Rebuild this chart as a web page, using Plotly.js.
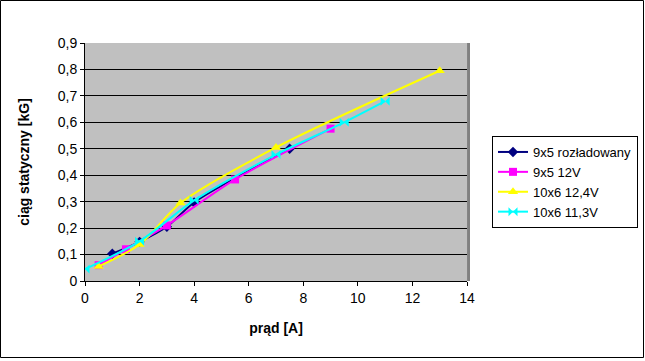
<!DOCTYPE html>
<html>
<head>
<meta charset="utf-8">
<script src="https://cdn.plot.ly/plotly-3.0.1.min.js"></script>
<style>
html,body{margin:0;padding:0;background:#fff;}
#chart{width:645px;height:361px;}
</style>
</head>
<body>
<div id="chart"></div>
<script>
// Data
const seriesNames = ["9x5 rozładowany", "9x5 12V", "10x6 12,4V", "10x6 11,3V"];
const s1x = [1, 2, 3, 4, 7.5];
const s1y = [0.103, 0.148, 0.205, 0.297, 0.5];
const s2x = [0.5, 1.5, 3, 5.5, 9];
const s2y = [0.06, 0.12, 0.21, 0.384, 0.576];
const s3x = [0.5, 2, 3.5, 7, 13];
const s3y = [0.055, 0.138, 0.295, 0.505, 0.795];
const s4x = [0, 2, 4, 7, 9.5, 11];
const s4y = [0.045, 0.15, 0.305, 0.478, 0.6, 0.68];
const yTickVals = [0, 0.1, 0.2, 0.3, 0.4, 0.5, 0.6, 0.7, 0.8, 0.9];
const yTickText = ["0", "0,1", "0,2", "0,3", "0,4", "0,5", "0,6", "0,7", "0,8", "0,9"];
const xTickVals = [0, 2, 4, 6, 8, 10, 12, 14];
const xTickText = ["0", "2", "4", "6", "8", "10", "12", "14"];

const W = 645, H = 361;
const m = {l: 85, r: 178, t: 43, b: 80};
const pw = W - m.l - m.r, ph = H - m.t - m.b;
const font = "Liberation Sans, Arial, sans-serif";

function tr(x, y, name, color, symbol, size) {
  return {x: x, y: y, name: name, type: "scatter", mode: "lines+markers",
    line: {color: color, width: 2, shape: "spline", smoothing: 0.8},
    marker: {color: color, symbol: symbol, size: size, line: {width: 0}}};
}
const traces = [
  tr(s1x, s1y, seriesNames[0], "#000080", "diamond", 8),
  tr(s2x, s2y, seriesNames[1], "#FF00FF", "square", 8),
  tr(s3x, s3y, seriesNames[2], "#FFFF00", "triangle-up", 9),
  tr(s4x, s4y, seriesNames[3], "#00FFFF", "bowtie", 9)
];

const layout = {
  width: W, height: H,
  margin: m,
  paper_bgcolor: "#ffffff",
  plot_bgcolor: "#c0c0c0",
  font: {family: font, size: 14, color: "#000"},
  showlegend: true,
  legend: {xref: "container", yref: "container", x: 492 / W, y: 1 - 136 / H,
    xanchor: "left", yanchor: "top",
    bgcolor: "#ffffff", bordercolor: "#000", borderwidth: 1,
    font: {family: font, size: 13, color: "#000"}, tracegroupgap: 0, itemwidth: 30},
  xaxis: {range: [0, 14], tickvals: xTickVals, ticktext: xTickText, showgrid: false,
    zeroline: false, showline: true, linecolor: "#000", linewidth: 1,
    ticks: "outside", ticklen: 4, tickcolor: "#000", automargin: false,
    title: {text: "<b>prąd [A]</b>", font: {family: font, size: 14}, standoff: 18}},
  yaxis: {range: [0, 0.9], tickvals: yTickVals, ticktext: yTickText, showgrid: true,
    gridcolor: "#000", gridwidth: 1, zeroline: false, showline: true, linecolor: "#000",
    linewidth: 1, ticks: "outside", ticklen: 4, tickcolor: "#000", automargin: false,
    title: {text: "<b>ciąg statyczny [kG]</b>", font: {family: font, size: 14}, standoff: 24}},
  shapes: [
    {type: "line", xref: "paper", yref: "paper", x0: 1.004, x1: 1.004, y0: 0, y1: 1,
      line: {color: "#808080", width: 3}},
    {type: "rect", xref: "paper", yref: "paper",
      x0: -(m.l - 0.5) / pw, x1: (W - 1.5 - m.l) / pw,
      y0: -(m.b - 3.5) / ph, y1: 1 + (m.t - 0.5) / ph,
      line: {color: "#000", width: 1}, fillcolor: "rgba(0,0,0,0)", layer: "below"}
  ]
};

Plotly.newPlot("chart", traces, layout, {displayModeBar: false, staticPlot: true});
</script>
</body>
</html>
